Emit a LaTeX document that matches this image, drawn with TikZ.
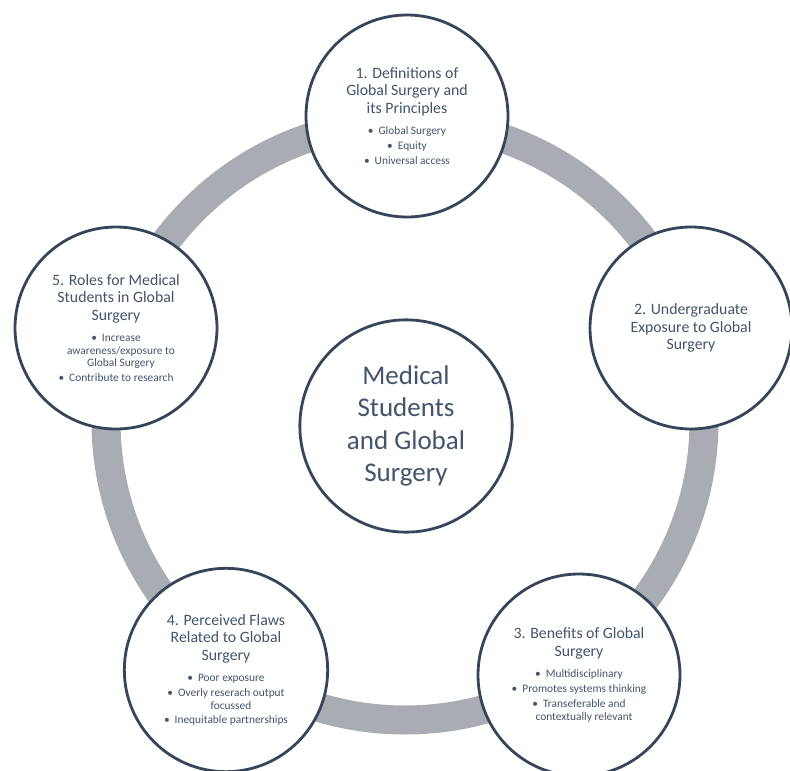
\documentclass[tikz,border=0pt]{standalone}
\usepackage{fontspec}
\setmainfont{Carlito}
\definecolor{ringgray}{HTML}{A9ACB2}
\definecolor{edgecol}{HTML}{36455A}
\definecolor{txtcol}{HTML}{44546A}
\newcommand\cttl{\fontsize{15.8}{17.6}\selectfont}
\newcommand\cbul{\fontsize{11.4}{12.6}\selectfont}
\newcommand\gapA{\par\vspace{8.8pt}\cbul}
\newcommand\gapB{\par\vspace{2.2pt}}
\newcommand\bl{•\hspace{5pt}}
\begin{document}
\begin{tikzpicture}[x=1pt,y=1pt,
  ringline/.style={draw=ringgray, line width=29pt},
  topic/.style={circle, draw=edgecol, line width=2.8pt, fill=white,
    minimum size=202pt, inner sep=0pt, text width=170pt, align=flush center,
    text=txtcol, font=\cttl},
  hub/.style={circle, draw=edgecol, line width=2.8pt, fill=white,
    minimum size=198pt, inner sep=0pt, text width=175pt, align=flush center,
    text=txtcol, font=\fontsize{27}{32.3}\selectfont}]
\useasboundingbox (0,0) rectangle (790,-771);
\coordinate (O) at (405,-421);
\draw[ringline] (O) circle (299);
\node[hub] (m) at (406,-426) {Medical\\Students\\and Global\\Surgery\par};
\node[topic] (c1) at (407,-116) {1. Definitions of\\Global Surgery and\\its Principles\gapA
  \bl Global Surgery\gapB \bl Equity\gapB \bl Universal access\par};
\node[topic] (c2) at (691,-328) {2. Undergraduate\\Exposure to Global\\Surgery\par};
\node[topic] (c3) at (579,-675) {3. Benefits of Global\\Surgery\gapA
  \bl Multidisciplinary\gapB \bl Promotes systems thinking\gapB
  \bl Transeferable and\\\hspace*{10pt}contextually relevant\par};
\node[topic] (c4) at (226,-670) {4. Perceived Flaws\\Related to Global\\Surgery\gapA
  \bl Poor exposure\gapB \bl Overly reserach output\\\hspace*{10pt}focussed\gapB
  \bl Inequitable partnerships\par};
\node[topic] (c5) at (116,-328) {5. Roles for Medical\\Students in Global\\Surgery\gapA
  \bl Increase\\\hspace*{10pt}awareness/exposure to\\\hspace*{10pt}Global Surgery\gapB
  \bl Contribute to research\par};
\end{tikzpicture}
\end{document}
